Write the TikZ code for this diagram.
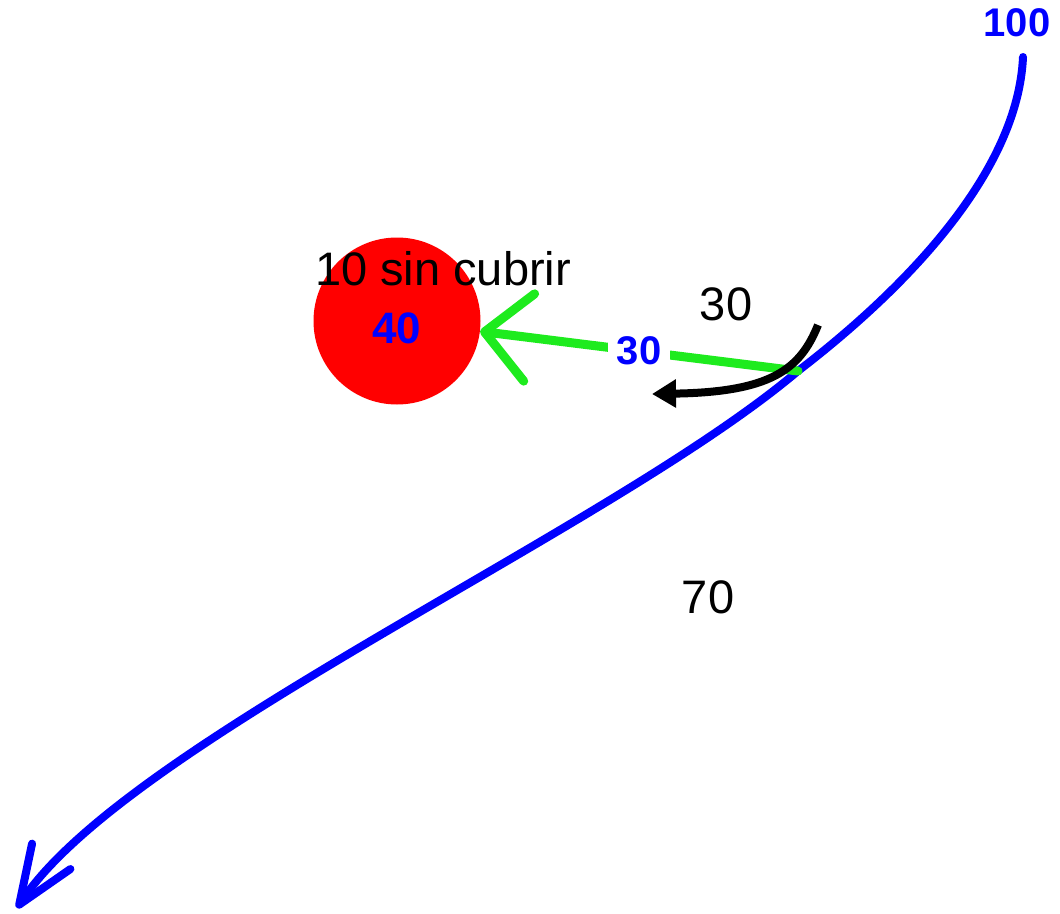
\documentclass[tikz,border=0pt]{standalone}
\usepackage{fontspec}
\setmainfont{Liberation Sans}
\usepackage{xcolor}
\usetikzlibrary{positioning,arrows.meta}
\definecolor{runblue}{RGB}{0,0,255}
\definecolor{kickgreen}{RGB}{30,235,30}
\tikzset{
  ball/.style={circle, fill=red, draw=none, minimum size=167pt, inner sep=0pt},
  num/.style={font=\fontsize{47}{50}\selectfont, inner sep=0pt, anchor=base},
  bnum/.style={font=\fontsize{40}{42}\selectfont\bfseries, text=runblue, inner sep=0pt},
  run/.style={draw=runblue, line width=8pt, line cap=round, -{Straight Barb[length=58pt,width=46pt,round]}},
  kick/.style={draw=kickgreen, line width=9pt, line cap=round, -{Straight Barb[length=45pt,width=88pt,round]}},
  turn/.style={draw=black, line width=8pt, -{Triangle[length=24pt,width=27pt]}}
}

\begin{document}
\begin{tikzpicture}[x=1pt, y=-1pt]
    \useasboundingbox (0,0) rectangle (1060,913);
    \node[ball, label={[bnum, font=\fontsize{44}{46}\selectfont\bfseries, yshift=-7pt]center:40}] (b) at (397,321) {};
    \coordinate (start) at (1023,57);
    \coordinate (hit) at (798,371);
    \coordinate (end) at (17,908);
    \draw[run] (start) .. controls (1018,170) and (910,285) .. (hit)
      .. controls (610,530) and (127,742) .. (end);
    \draw[kick] (hit) -- node[bnum, fill=white, inner xsep=9pt] (k) {30} (b);
    \node[bnum] (top) at (1017,23) {100};
    \node[num] (t30) at (726,320) {30};
    \node[num] (t70) at (708,613) {70};
    \node[num] (open) at (443,285) {10 sin cubrir};
    \coordinate (ta) at (818,325);
    \coordinate (tb) at (652,394);
    \draw[turn] (ta) .. controls (800,370) and (770,392) .. (tb);
  \end{tikzpicture}
\end{document}
